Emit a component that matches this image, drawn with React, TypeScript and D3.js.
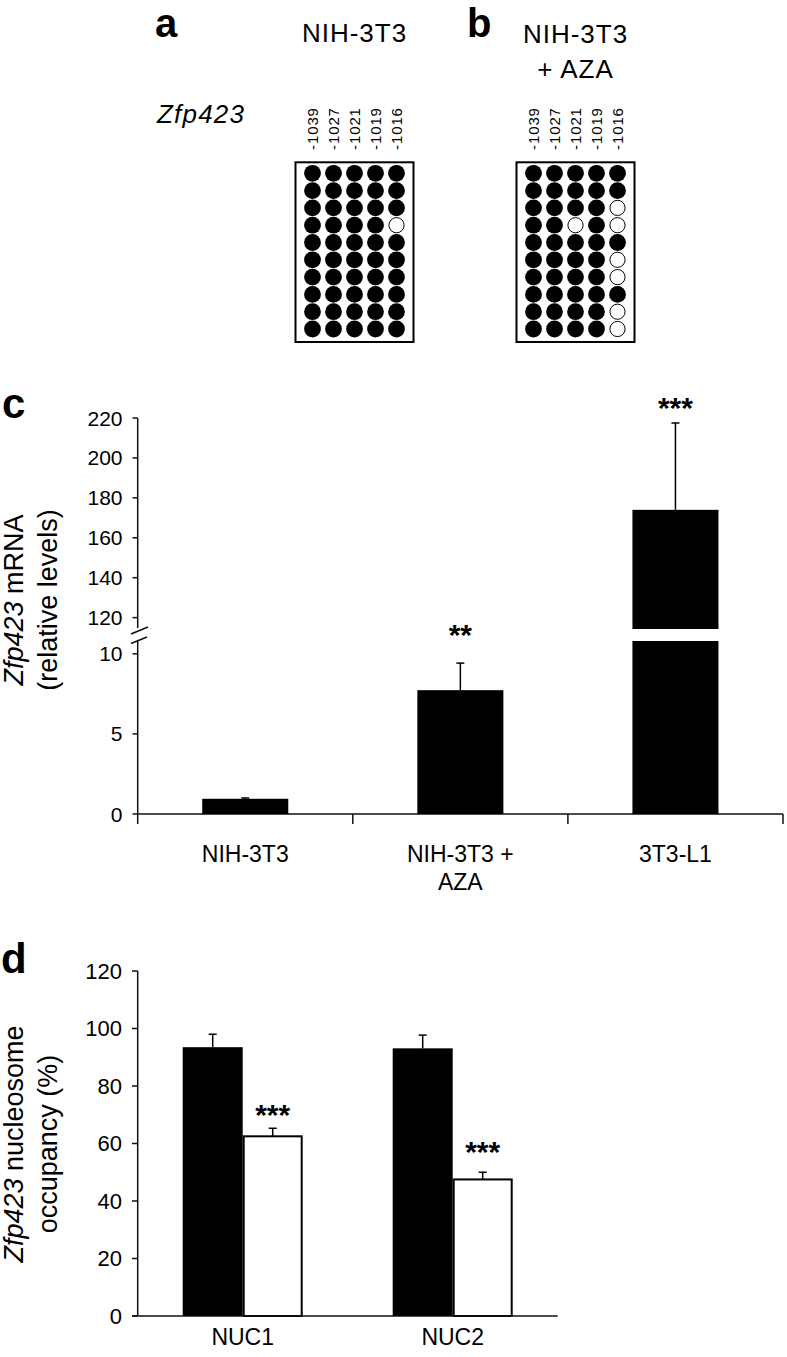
import React from "react";
import * as d3 from "d3";

// ---------- data ----------
const cpgSites = ["-1039", "-1027", "-1021", "-1019", "-1016"];
// 1 = methylated (filled), 0 = unmethylated (open)
const methylNIH = [
  [1, 1, 1, 1, 1],
  [1, 1, 1, 1, 1],
  [1, 1, 1, 1, 1],
  [1, 1, 1, 1, 0],
  [1, 1, 1, 1, 1],
  [1, 1, 1, 1, 1],
  [1, 1, 1, 1, 1],
  [1, 1, 1, 1, 1],
  [1, 1, 1, 1, 1],
  [1, 1, 1, 1, 1],
];
const methylAZA = [
  [1, 1, 1, 1, 1],
  [1, 1, 1, 1, 1],
  [1, 1, 1, 1, 0],
  [1, 1, 0, 1, 0],
  [1, 1, 1, 1, 1],
  [1, 1, 1, 1, 0],
  [1, 1, 1, 1, 0],
  [1, 1, 1, 1, 1],
  [1, 1, 1, 1, 0],
  [1, 1, 1, 1, 0],
];

const mrnaCategories = ["NIH-3T3", "NIH-3T3 +|AZA", "3T3-L1"];
const mrnaValues = [0.95, 7.73, 174];
const mrnaErrors = [0.05, 1.69, 43.5];
const mrnaSig = ["", "**", "***"];
const mrnaLowerTicks = [0, 5, 10];
const mrnaUpperTicks = [120, 140, 160, 180, 200, 220];

const nucCategories = ["NUC1", "NUC2"];
const nucControl = [93.5, 93.1];
const nucControlErr = [4.5, 4.6];
const nucAza = [62.5, 47.5];
const nucAzaErr = [2.8, 2.5];
const nucSig = ["***", "***"];
const nucTicks = [0, 20, 40, 60, 80, 100, 120];

// ---------- layout ----------
const FONT = "'Liberation Sans', Arial, Helvetica, sans-serif";
const W = 787;
const H = 1357;

function MethylBox({ cx, data }: { cx: number; data: number[][] }) {
  const boxW = 118;
  const top = 162.3;
  const bottom = 342;
  const colX = d3
    .scalePoint<number>()
    .domain(d3.range(cpgSites.length))
    .range([cx - 42, cx + 42]);
  const rowY = d3
    .scalePoint<number>()
    .domain(d3.range(data.length))
    .range([173.3, 329]);
  return (
    <g>
      {cpgSites.map((s, i) => (
        <text
          key={s}
          transform={`translate(${colX(i)! + 5.5},150) rotate(-90)`}
          fontSize={15}
          letterSpacing={0.9}
          textAnchor="start"
          fill="#000"
        >
          {s}
        </text>
      ))}
      <rect
        x={cx - boxW / 2}
        y={top}
        width={boxW}
        height={bottom - top}
        fill="#fff"
        stroke="#000"
        strokeWidth={2}
      />
      {data.map((row, r) =>
        row.map((v, c) => (
          <circle
            key={`${r}-${c}`}
            cx={colX(c)}
            cy={rowY(r)}
            r={v ? 8.4 : 7.6}
            fill={v ? "#000" : "#fff"}
            stroke="#000"
            strokeWidth={v ? 0 : 1}
          />
        ))
      )}
    </g>
  );
}

export default function App() {
  // ----- panel c scales -----
  const cX = d3
    .scaleBand<string>()
    .domain(mrnaCategories)
    .range([137.7, 783])
    .paddingInner(0.6)
    .paddingOuter(0.3);
  const cLowMax = 10.8;
  const cUpMin = 114.3;
  const yLow = d3.scaleLinear().domain([0, cLowMax]).range([814, 641]);
  const yUp = d3.scaleLinear().domain([cUpMin, 220]).range([629, 418]);
  const sigOffset = [0, 18, 5];

  // ----- panel d scales -----
  const dX = d3
    .scaleBand<string>()
    .domain(nucCategories)
    .range([137.7, 557.7])
    .paddingInner(3 / 7)
    .paddingOuter(1.5 / 7);
  const dSeries = d3.scaleBand<number>().domain([0, 1]).range([0, dX.bandwidth()]);
  const yD = d3.scaleLinear().domain([0, 120]).range([1316, 971]);
  const nucSigGap = [3, 10];

  const axisColor = "#111";
  const cap = 4;

  return (
    <svg
      width={W}
      height={H}
      viewBox={`0 0 ${W} ${H}`}
      style={{ position: "absolute", left: 0, top: 0, display: "block", background: "#fff" }}
      fontFamily={FONT}
    >
      <rect x={0} y={0} width={W} height={H} fill="#fff" />

      {/* ---------- panels a & b ---------- */}
      <text x={155} y={36.5} fontSize={40} fontWeight="bold">a</text>
      <text x={467} y={36.5} fontSize={40} fontWeight="bold">b</text>
      <text x={354.5} y={42} fontSize={26} letterSpacing={1} textAnchor="middle">NIH-3T3</text>
      <text x={575.5} y={43} fontSize={26} letterSpacing={1} textAnchor="middle">NIH-3T3</text>
      <text x={575.5} y={78} fontSize={26} letterSpacing={1} textAnchor="middle">+ AZA</text>
      <text x={157} y={123} fontSize={26} letterSpacing={1.2} fontStyle="italic">Zfp423</text>
      <MethylBox cx={354.5} data={methylNIH} />
      <MethylBox cx={575.5} data={methylAZA} />

      {/* ---------- panel c ---------- */}
      <text x={2} y={418} fontSize={42} fontWeight="bold">c</text>
      <g transform="translate(23,600) rotate(-90)" fontSize={27} textAnchor="middle">
        <text>
          <tspan fontStyle="italic">Zfp423</tspan>
          <tspan> mRNA</tspan>
        </text>
      </g>
      <g transform="translate(57,600) rotate(-90)" fontSize={27} textAnchor="middle">
        <text>(relative levels)</text>
      </g>

      {/* y axis upper segment */}
      <line x1={137.7} x2={137.7} y1={yUp(220)} y2={yUp(cUpMin) - 1} stroke={axisColor} strokeWidth={1.5} />
      {mrnaUpperTicks.map((t) => (
        <g key={`u${t}`}>
          <line x1={132.5} x2={137.7} y1={yUp(t)} y2={yUp(t)} stroke={axisColor} strokeWidth={1.5} />
          <text x={122.5} y={yUp(t)} dy="0.36em" fontSize={21} textAnchor="end">{t}</text>
        </g>
      ))}
      {/* y axis lower segment */}
      <line x1={137.7} x2={137.7} y1={yLow(cLowMax)} y2={824} stroke={axisColor} strokeWidth={1.5} />
      {mrnaLowerTicks.map((t) => (
        <g key={`l${t}`}>
          <line x1={132.5} x2={137.7} y1={yLow(t)} y2={yLow(t)} stroke={axisColor} strokeWidth={1.5} />
          <text x={122.5} y={yLow(t)} dy="0.36em" fontSize={21} textAnchor="end">{t}</text>
        </g>
      ))}
      {/* break marks */}
      <line x1={131} y1={634} x2={148} y2={627} stroke={axisColor} strokeWidth={1.5} />
      <line x1={131} y1={643.5} x2={147} y2={637} stroke={axisColor} strokeWidth={1.5} />

      {/* x axis */}
      <line x1={137.7} x2={783} y1={yLow(0)} y2={yLow(0)} stroke={axisColor} strokeWidth={1.5} />
      {mrnaCategories.map((c, i) => (
        <line
          key={`ct${i}`}
          x1={cX(c)! + cX.bandwidth() + cX.step() * 0.3}
          x2={cX(c)! + cX.bandwidth() + cX.step() * 0.3}
          y1={yLow(0)}
          y2={824}
          stroke={axisColor}
          strokeWidth={1.5}
        />
      ))}

      {/* bars */}
      {mrnaCategories.map((c, i) => {
        const x = cX(c)!;
        const bw = cX.bandwidth();
        const v = mrnaValues[i];
        const e = mrnaErrors[i];
        const xc = x + bw / 2;
        const broken = v > cLowMax;
        const yScale = broken ? yUp : yLow;
        const topY = yScale(v);
        const errY = yScale(v + e);
        const lines = c.split("|");
        return (
          <g key={c}>
            {broken ? (
              <>
                <rect x={x} y={yLow(cLowMax)} width={bw} height={yLow(0) - yLow(cLowMax)} fill="#000" />
                <rect x={x} y={topY} width={bw} height={yUp(cUpMin) - topY} fill="#000" />
              </>
            ) : (
              <rect x={x} y={topY} width={bw} height={yLow(0) - topY} fill="#000" />
            )}
            <line x1={xc} x2={xc} y1={topY} y2={errY} stroke="#000" strokeWidth={1.5} />
            <line x1={xc - cap} x2={xc + cap} y1={errY} y2={errY} stroke="#000" strokeWidth={1.5} />
            {mrnaSig[i] && (
              <text x={xc} y={errY - sigOffset[i]} fontSize={30} fontWeight="bold" textAnchor="middle">
                {mrnaSig[i]}
              </text>
            )}
            {lines.map((ln, k) => (
              <text key={k} x={xc} y={862 + k * 28} fontSize={23} textAnchor="middle">
                {ln}
              </text>
            ))}
          </g>
        );
      })}

      {/* ---------- panel d ---------- */}
      <text x={1} y={973} fontSize={42} fontWeight="bold">d</text>
      <g transform="translate(23,1144) rotate(-90)" fontSize={27} textAnchor="middle">
        <text>
          <tspan fontStyle="italic">Zfp423</tspan>
          <tspan> nucleosome</tspan>
        </text>
      </g>
      <g transform="translate(57,1144) rotate(-90)" fontSize={27} textAnchor="middle">
        <text>occupancy (%)</text>
      </g>

      <line x1={137.7} x2={137.7} y1={yD(120)} y2={yD(0)} stroke={axisColor} strokeWidth={1.5} />
      {nucTicks.map((t) => (
        <g key={`d${t}`}>
          <line x1={132} x2={137.7} y1={yD(t)} y2={yD(t)} stroke={axisColor} strokeWidth={1.5} />
          <text x={122} y={yD(t)} dy="0.36em" fontSize={22} textAnchor="end">{t}</text>
        </g>
      ))}

      {nucCategories.map((c, i) => {
        const gx = dX(c)!;
        const bw = dSeries.bandwidth();
        const vals = [nucControl[i], nucAza[i]];
        const errs = [nucControlErr[i], nucAzaErr[i]];
        return (
          <g key={c}>
            {vals.map((v, s) => {
              const x = gx + dSeries(s)!;
              const xc = x + bw / 2;
              const topY = yD(v);
              const errY = yD(v + errs[s]);
              return (
                <g key={s}>
                  <line x1={xc} x2={xc} y1={topY} y2={errY} stroke="#000" strokeWidth={1.5} />
                  <line x1={xc - cap} x2={xc + cap} y1={errY} y2={errY} stroke="#000" strokeWidth={1.5} />
                  <rect
                    x={s === 0 ? x : x + 1}
                    y={topY}
                    width={s === 0 ? bw : bw - 2}
                    height={yD(0) - topY}
                    fill={s === 0 ? "#000" : "#fff"}
                    stroke="#000"
                    strokeWidth={s === 0 ? 0 : 2}
                  />
                  {s === 1 && (
                    <text x={xc} y={errY - nucSigGap[i]} fontSize={30} fontWeight="bold" textAnchor="middle">
                      {nucSig[i]}
                    </text>
                  )}
                </g>
              );
            })}
            <text x={gx + dX.bandwidth() / 2} y={1345} fontSize={23} textAnchor="middle">
              {c}
            </text>
          </g>
        );
      })}
      <line x1={132} x2={557.7} y1={yD(0)} y2={yD(0)} stroke={axisColor} strokeWidth={1.5} />
    </svg>
  );
}
